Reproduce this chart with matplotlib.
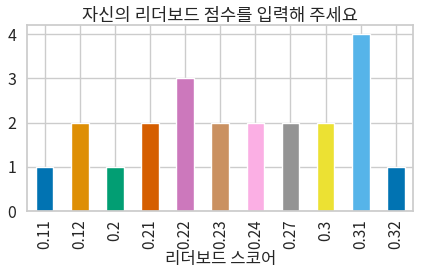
import matplotlib
matplotlib.use("Agg")
import matplotlib.pyplot as plt
import seaborn as sns
import pandas as pd

sns.set_theme(style="whitegrid", palette="colorblind")
plt.rcParams['font.family'] = ['Noto Sans CJK KR', 'DejaVu Sans']

scores = ['0.11', '0.12', '0.2', '0.21', '0.22', '0.23', '0.24', '0.27', '0.3', '0.31', '0.32']
counts = [1, 2, 1, 2, 3, 2, 2, 2, 2, 4, 1]

colors = sns.color_palette("colorblind", 10)
bar_colors = [colors[i % 10] for i in range(len(scores))]

fig, ax = plt.subplots(figsize=(4.24, 2.8), dpi=100)
s = pd.Series(counts, index=scores)
s.plot.bar(ax=ax, color=bar_colors, width=0.5)
ax.set_title('자신의 리더보드 점수를 입력해 주세요', fontsize=12.7, pad=3)
ax.set_xlabel('리더보드 스코어', fontsize=12, labelpad=1)
ax.tick_params(axis='x', labelsize=11, pad=0)
ax.tick_params(axis='y', labelsize=11.5, pad=2)
ax.set_yticks([0, 1, 2, 3, 4])
for sp in ax.spines.values():
    sp.set_color('#cccccc')
plt.subplots_adjust(left=0.064, right=0.975, top=0.91, bottom=0.246)
fig.savefig('out.png', dpi=100)
